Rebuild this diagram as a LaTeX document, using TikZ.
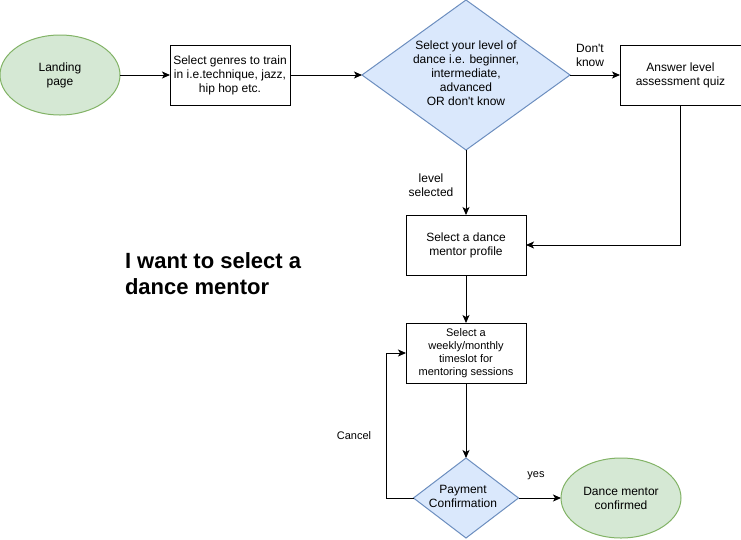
\documentclass[tikz,border=0pt]{standalone}
\usepackage{fontspec}
\setmainfont{Liberation Sans}[Ligatures=TeXOff]
\usetikzlibrary{shapes.geometric,arrows.meta}
\definecolor{gfill}{HTML}{D5E8D4}
\definecolor{gline}{HTML}{82B366}
\definecolor{bfill}{HTML}{DAE8FC}
\definecolor{bline}{HTML}{6C8EBF}
\tikzset{
  base/.style={inner sep=0pt, outer sep=0pt, align=center, font=\fontsize{12}{14}\selectfont, line width=1pt},
  stepbox/.style={base, draw=black, fill=white, rectangle, minimum width=120pt, minimum height=60pt},
  terminal/.style={base, draw=gline, fill=gfill, ellipse, minimum width=120pt, minimum height=80pt},
  decision/.style={base, draw=bline, fill=bfill, diamond},
  dtext/.style={base},
  elabel/.style={base, fill=white, inner sep=0.5pt},
  flow/.style={line width=1pt, -{Stealth[length=8pt,width=7pt,inset=2pt]}},
}
\begin{document}
\begin{tikzpicture}[x=1pt,y=-1pt]
\useasboundingbox (0,0) rectangle (741,539);
% nodes
\node[terminal] (land) at (60,75) {Landing\\page};
\node[stepbox] (genre) at (230,75) {Select genres to train\\in i.e.technique, jazz,\\hip hop etc.};
\node[decision, minimum width=208pt, minimum height=150pt] (level) at (466,75) {};
\node[dtext] (leveltxt) at (466,73) {Select your level of\\dance i.e. beginner,\\intermediate,\\advanced\\OR don't know};
\node[stepbox, minimum width=121pt] (quiz) at (680.5,75) {Answer level\\assessment quiz};
\node[stepbox] (mentor) at (466,245) {Select a dance\\mentor profile};
\node[stepbox, font=\fontsize{11}{13}\selectfont] (slot) at (466,353) {Select a\\weekly/monthly\\timeslot for\\mentoring sessions};
\node[decision, minimum width=105pt, minimum height=80pt] (pay) at (466,498) {};
\node[dtext] (paytxt) at (463,496) {Payment\\Confirmation};
\node[terminal] (done) at (621,498) {Dance mentor\\confirmed};
\node[base, anchor=north west, align=left, font=\fontsize{22}{26}\bfseries\selectfont] (title) at (125,253) {I want to select a\\dance mentor};
% connectors
\draw[flow] (land) -- (genre);
\draw[flow] (genre) -- (level.west);
\draw[flow] (level.east) -- (quiz);
\draw[flow] (level.south) -- (mentor);
\draw[flow] (quiz.south) |- (mentor.east);
\draw[flow] (mentor) -- (slot);
\draw[flow] (slot) -- (pay.north);
\draw[flow] (pay.east) -- (done);
\draw[flow] (pay.west) -- ++(-27,0) |- (slot.west);
% labels
\node[elabel] (lbldk) at (590,55) {Don't\\know};
\node[elabel] (lblsel) at (431,185) {level\\selected};
\node[elabel, font=\fontsize{11}{13}\selectfont] (lblcan) at (354,436) {Cancel};
\node[elabel, font=\fontsize{11}{13}\selectfont] (lblyes) at (536,476) {yes};
\end{tikzpicture}
\end{document}
